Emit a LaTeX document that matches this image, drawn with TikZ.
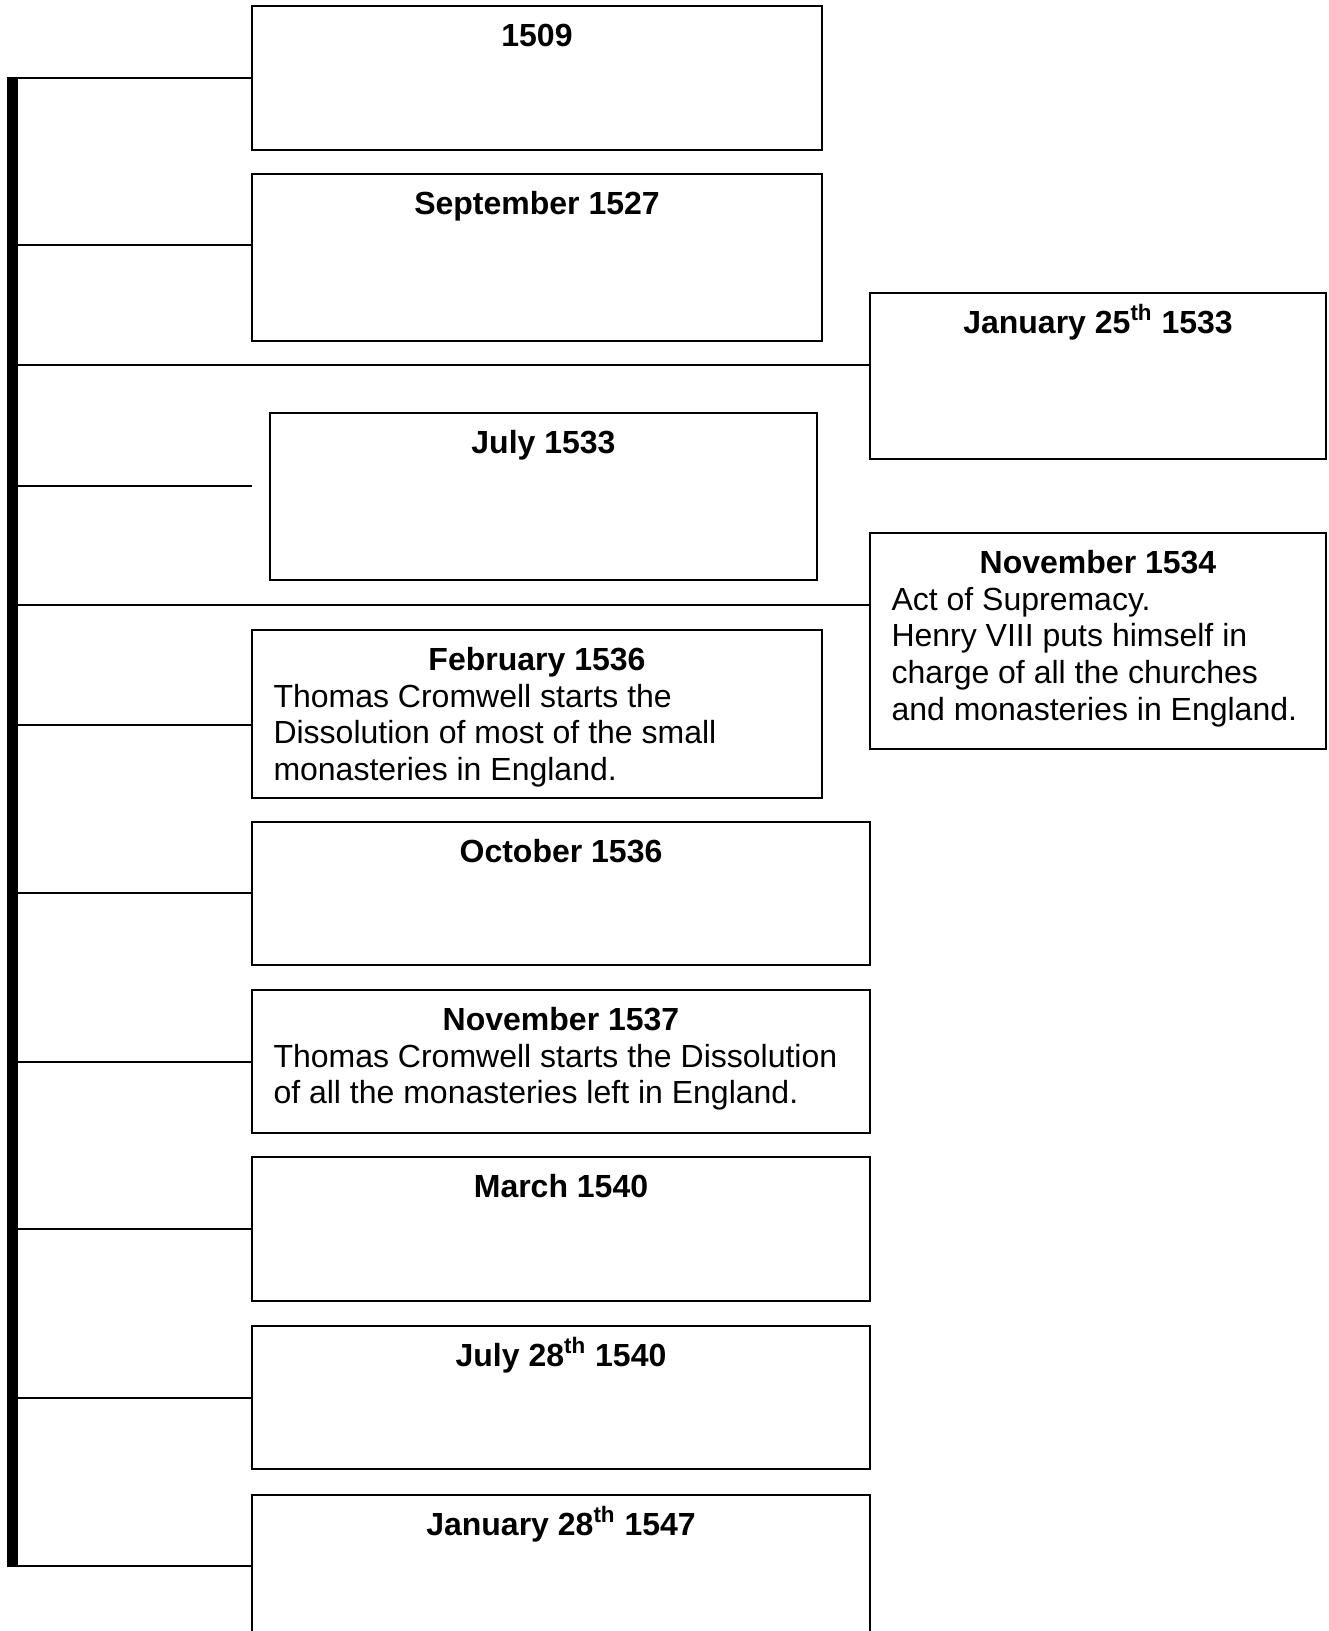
\documentclass[tikz,border=0pt]{standalone}
\usepackage{fontspec}
\setmainfont{Liberation Sans}
\usetikzlibrary{calc}
\begin{document}
\begin{tikzpicture}[x=0.5pt,y=-0.5pt,
  box/.style n args={2}{draw,line width=0.9pt,rectangle,inner sep=0pt,minimum width=#1,minimum height=#2},
  ttl/.style={font=\fontsize{16pt}{18.35pt}\selectfont\bfseries,anchor=base,inner sep=0pt},
  body/.style={font=\fontsize{16pt}{18.35pt}\selectfont,anchor=north west,inner sep=0pt,align=left},
  conn/.style={line width=0.75pt},
  bar/.style={fill=black}]
\clip (0,0) rectangle (1328,1631);
% timeline bar
\fill[bar] (7,77) rectangle (18,1567);
% boxes
\node[box={285pt}{72pt}]    (b1)  at (537,78) {};
\node[box={285pt}{83.5pt}]  (b2)  at (537,257.5) {};
\node[box={228pt}{83pt}]    (b3)  at (1098,376) {};
\node[box={273.5pt}{83.5pt}](b4)  at (543.5,496.5) {};
\node[box={228pt}{108pt}]   (b5)  at (1098,641) {};
\node[box={285pt}{84pt}]    (b6)  at (537,714) {};
\node[box={309pt}{71.5pt}]  (b7)  at (561,893.5) {};
\node[box={309pt}{71.5pt}]  (b8)  at (561,1061.5) {};
\node[box={309pt}{72pt}]    (b9)  at (561,1229) {};
\node[box={309pt}{71.5pt}]  (b10) at (561,1397.5) {};
\node[box={309pt}{82.5pt}]  (b11) at (561,1577.5) {};
% titles
\node[ttl] (t1)  at ($(b1.north)+(0,41)$) {1509};
\node[ttl] (t2)  at ($(b2.north)+(0,41)$) {September 1527};
\node[ttl] (t3)  at ($(b3.north)+(0,41)$) {January 25\textsuperscript{th} 1533};
\node[ttl] (t4)  at ($(b4.north)+(0,41)$) {July 1533};
\node[ttl] (t5)  at ($(b5.north)+(0,41)$) {November 1534};
\node[ttl] (t6)  at ($(b6.north)+(0,41)$) {February 1536};
\node[ttl] (t7)  at ($(b7.north)+(0,41)$) {October 1536};
\node[ttl] (t8)  at ($(b8.north)+(0,41)$) {November 1537};
\node[ttl] (t9)  at ($(b9.north)+(0,41)$) {March 1540};
\node[ttl] (t10) at ($(b10.north)+(0,41)$) {July 28\textsuperscript{th} 1540};
\node[ttl] (t11) at ($(b11.north)+(0,41)$) {January 28\textsuperscript{th} 1547};
% bodies
\node[body] (d5) at ($(b5.north west)+(22,52)$) {\strut Act of Supremacy.\\Henry VIII puts himself in\\charge of all the churches\\and monasteries in England.};
\node[body] (d6) at ($(b6.north west)+(22,52)$) {\strut Thomas Cromwell starts the\\Dissolution of most of the small\\monasteries in England.};
\node[body] (d8) at ($(b8.north west)+(22,52)$) {\strut Thomas Cromwell starts the Dissolution\\of all the monasteries left in England.};
% connectors
\coordinate (k1) at (12,78);
\coordinate (k2) at (12,245);
\coordinate (k3) at (12,365);
\coordinate (k4) at (12,486);
\coordinate (k4e) at (252,486);
\coordinate (k5) at (12,605);
\coordinate (k6) at (12,725);
\coordinate (k7) at (12,893);
\coordinate (k8) at (12,1062);
\coordinate (k9) at (12,1229);
\coordinate (k10) at (12,1398);
\coordinate (k11) at (12,1566);
\draw[conn] (k1) -- (k1 -| b1.west);
\draw[conn] (k2) -- (k2 -| b2.west);
\draw[conn] (k3) -- (k3 -| b3.west);
\draw[conn] (k4) -- (k4e);
\draw[conn] (k5) -- (k5 -| b5.west);
\draw[conn] (k6) -- (k6 -| b6.west);
\draw[conn] (k7) -- (k7 -| b7.west);
\draw[conn] (k8) -- (k8 -| b8.west);
\draw[conn] (k9) -- (k9 -| b9.west);
\draw[conn] (k10) -- (k10 -| b10.west);
\draw[conn] (k11) -- (k11 -| b11.west);
\end{tikzpicture}
\end{document}
